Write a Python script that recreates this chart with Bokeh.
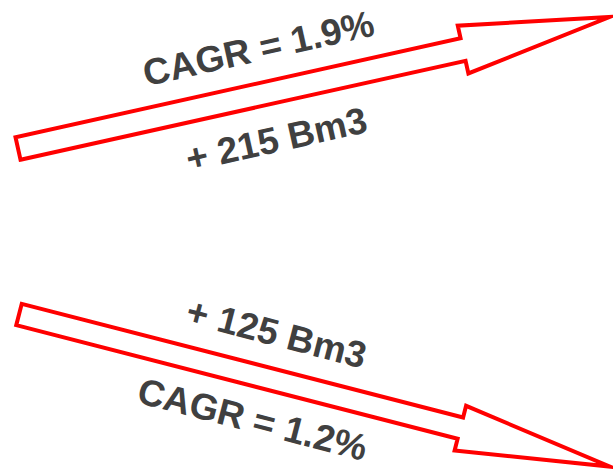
import numpy as np
from bokeh.plotting import figure
from bokeh.models import Range1d, ColumnDataSource
from bokeh.core.properties import value
from bokeh.embed import file_html
from bokeh.resources import INLINE

# ---- data (values shown on the chart) ----
series = ["growth_high", "growth_low"]
cagr_pct = [1.9, 1.2]
volume_bm3 = [215, 125]
cagr_labels = [f"CAGR = {v}%" for v in cagr_pct]
volume_labels = [f"+ {v} Bm3" for v in volume_bm3]

# ---- layout (pixel space, y grows downward) ----
W, H = 613, 471
tail_x = [17.5, 18.5]
tail_y = [148.0, 314.0]
tip_x = [609.0, 609.0]
tip_y = [16.5, 466.0]
shaft_w = [23.0, 22.0]
head_w = [49.0, 46.0]
head_len = [150.0, 154.0]

cagr_x = [258, 252]
cagr_y = [48, 419]
vol_x = [276, 276]
vol_y = [139, 333]
text_angle_deg = [12.5, -14.5]


def arrow_polygon(tx, ty, px, py, sw, hw, hl):
    tail = np.array([tx, ty])
    tip = np.array([px, py])
    d = tip - tail
    u = d / np.linalg.norm(d)
    n = np.array([-u[1], u[0]])
    base = tip - u * hl
    pts = [tail + n * sw / 2, base + n * sw / 2, base + n * hw / 2, tip,
           base - n * hw / 2, base - n * sw / 2, tail - n * sw / 2]
    return [float(p[0]) for p in pts], [float(p[1]) for p in pts]


xs, ys = [], []
for i in range(len(series)):
    x, y = arrow_polygon(tail_x[i], tail_y[i], tip_x[i], tip_y[i],
                         shaft_w[i], head_w[i], head_len[i])
    xs.append(x)
    ys.append(y)

p = figure(width=W, height=H, output_backend="svg", toolbar_location=None,
           x_range=Range1d(0, W), y_range=Range1d(H, 0),
           x_axis_type=None, y_axis_type=None, min_border=0,
           background_fill_color="white", border_fill_color="white")
p.grid.visible = False
p.outline_line_color = None

p.patches(xs=xs, ys=ys, fill_color="white", line_color="#FF0000",
          line_width=4, line_join="miter")

angles = [np.deg2rad(a) for a in text_angle_deg]
src = ColumnDataSource(dict(
    x=cagr_x + vol_x, y=cagr_y + vol_y,
    text=cagr_labels + volume_labels, angle=angles + angles))
p.text(x="x", y="y", text="text", angle="angle", source=src,
       text_font=value("Liberation Sans"), text_font_style="bold",
       text_font_size="37px", text_color="#404040",
       text_align="center", text_baseline="middle")

open("out.html", "w").write(file_html(p, INLINE))
